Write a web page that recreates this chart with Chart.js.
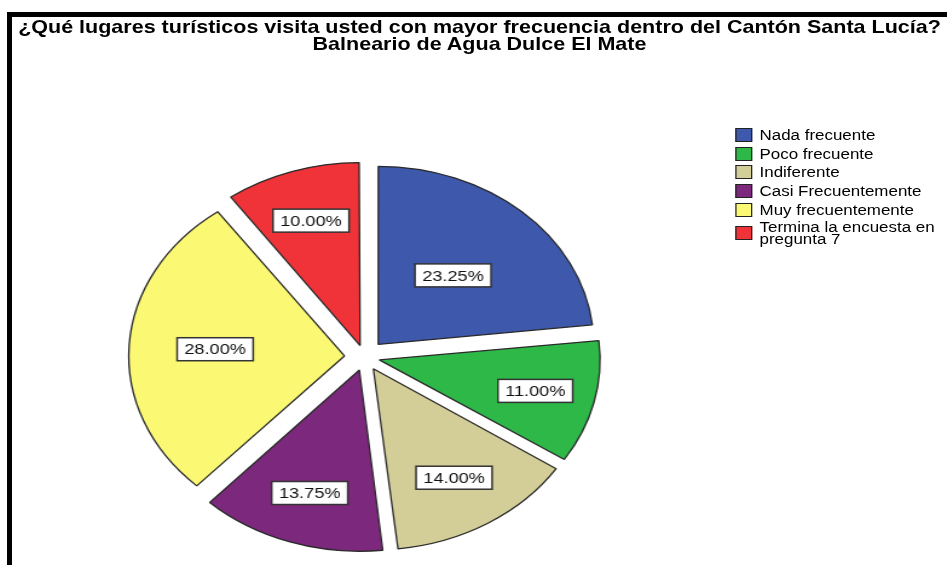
<!DOCTYPE html>
<html>
<head>
<meta charset="utf-8">
<script src="https://cdn.jsdelivr.net/npm/chart.js@4.4.0/dist/chart.umd.min.js"></script>
<style>
    html, body { margin: 0; padding: 0; background: #fff; }
    body { width: 947px; height: 565px; position: relative; overflow: hidden; font-family: "Liberation Sans", Arial, sans-serif; }
    #frame { position: absolute; left: 7px; top: 12px; width: 940px; height: 553px; border-top: 5px solid #000; border-left: 5px solid #000; box-sizing: border-box; }
    /* the original picture is stretched sideways, so the whole stage is too */
    #stage { position: absolute; left: 12px; top: 0; width: 773px; height: 565px; transform: scaleX(1.2096); transform-origin: 0 0; }
    #title { position: absolute; left: 0; top: 19px; width: 773px; text-align: center; font-weight: bold; font-size: 17.8px; line-height: 17px; color: #000; white-space: nowrap; }
    #legend { position: absolute; left: 598px; top: 125.6px; width: 178px; font-size: 14px; color: #000; }
    .item { display: flex; align-items: center; min-height: 18.7px; }
    .item:last-child { padding-top: 2px; }
    .box { width: 14px; height: 14px; border: 1px solid #222; box-sizing: border-box; flex: none; margin-right: 6px; }
    .item span { line-height: 12px; }
    canvas { position: absolute; left: 0; top: 0; }
</style>
</head>
<body>
<div id="frame"></div>
<div id="stage">
    <div id="title"></div>
    <canvas id="pieChart" width="773" height="565"></canvas>
    <div id="legend"></div>
</div>
<script>
var titleLines = [
    '¿Qué lugares turísticos visita usted con mayor frecuencia dentro del Cantón Santa Lucía?',
    'Balneario de Agua Dulce El Mate'
];
var categories = [
    'Nada frecuente',
    'Poco frecuente',
    'Indiferente',
    'Casi Frecuentemente',
    'Muy frecuentemente',
    'Termina la encuesta en pregunta 7'
];
var percentages = [23.25, 11.00, 14.00, 13.75, 28.00, 10.00];

var COLORS = ['#3e58ac', '#2eb848', '#d3ce97', '#7c287d', '#fbf873', '#ef3338'];
var EXPLODE = 17;   // px each slice is pulled out
// how far out along each slice the value box sits (share of the radius)
var LABEL_RADIUS = [0.52, 0.72, 0.70, 0.71, 0.60, 0.71];

(function () {
    document.getElementById('title').innerHTML = titleLines.join('<br>');

    var legend = document.getElementById('legend');
    categories.forEach(function (c, i) {
        var row = document.createElement('div');
        row.className = 'item';
        var box = document.createElement('div');
        box.className = 'box';
        box.style.background = COLORS[i];
        var txt = document.createElement('span');
        txt.textContent = c;
        row.appendChild(box);
        row.appendChild(txt);
        legend.appendChild(row);
    });

    var total = percentages.reduce(function (a, b) { return a + b; }, 0);

    // Chart.js v4 moves an arc by offset/4 * (1 + fix), undo that so every slice moves EXPLODE px
    function sliceOffset(ctx) {
        var circ = 2 * Math.PI * percentages[ctx.dataIndex] / total;
        var fix = 1 - Math.sin(Math.min(Math.PI, circ));
        return 4 * EXPLODE / (1 + fix);
    }

    var sliceLabels = {
        id: 'sliceLabels',
        afterDatasetsDraw: function (chart) {
            var ctx = chart.ctx;
            var meta = chart.getDatasetMeta(0);
            ctx.save();
            ctx.font = '15px "Liberation Sans", Arial, sans-serif';
            ctx.textAlign = 'center';
            ctx.textBaseline = 'middle';
            meta.data.forEach(function (arc, i) {
                var p = arc.getProps(['x', 'y', 'startAngle', 'endAngle', 'outerRadius']);
                var mid = (p.startAngle + p.endAngle) / 2;
                var d = EXPLODE + p.outerRadius * LABEL_RADIUS[i];
                var x = p.x + Math.cos(mid) * d;
                var y = p.y + Math.sin(mid) * d;
                var text = percentages[i].toFixed(2) + '%';
                var w = ctx.measureText(text).width + 12;
                var h = 23;
                ctx.fillStyle = '#fff';
                ctx.fillRect(x - w / 2, y - h / 2, w, h);
                ctx.strokeStyle = '#333';
                ctx.lineWidth = 1.5;
                ctx.strokeRect(x - w / 2, y - h / 2, w, h);
                ctx.fillStyle = '#111';
                ctx.fillText(text, x, y + 1);
            });
            ctx.restore();
        }
    };

    new Chart(document.getElementById('pieChart'), {
        type: 'pie',
        data: {
            labels: categories,
            datasets: [{
                data: percentages,
                backgroundColor: COLORS,
                borderColor: '#2a2a2a',
                borderWidth: 1.3,
                offset: sliceOffset,
                clip: false,
            }],
        },
        options: {
            responsive: false,
            animation: false,
            devicePixelRatio: 1,
            radius: 178,
            layout: { padding: { top: 149, right: 190, left: 0, bottom: 0 } },
            plugins: {
                legend: { display: false },
                title: { display: false },
                tooltip: { enabled: false },
            },
        },
        plugins: [sliceLabels],
    });
})();
</script>
</body>
</html>
